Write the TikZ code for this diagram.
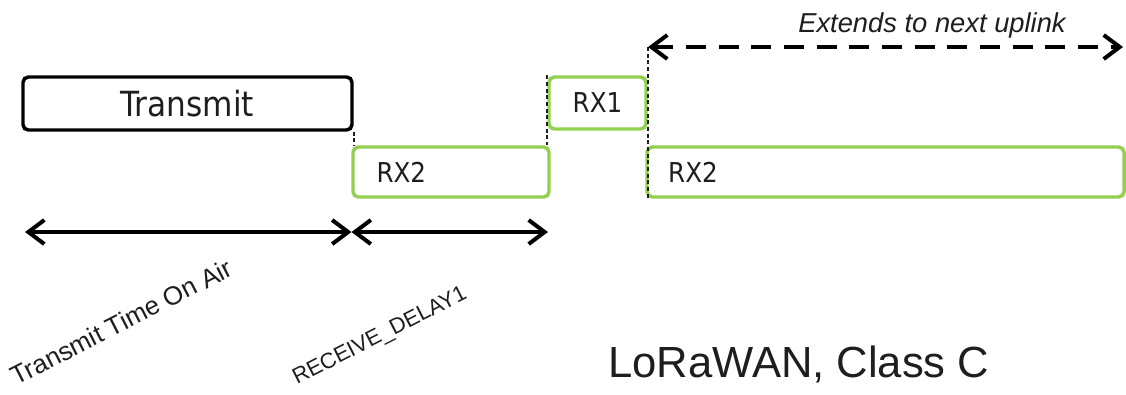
\documentclass[tikz,border=0pt]{standalone}
\usepackage{fontspec}
\setmainfont{Liberation Sans}
\newfontfamily\boxfont{DejaVu Sans Condensed}
\usetikzlibrary{arrows.meta}
\definecolor{rxgreen}{RGB}{146,208,80}
\definecolor{ink}{RGB}{30,30,30}
\tikzset{
  slot/.style={draw, rounded corners=4pt, line width=2.6pt, inner sep=0pt, text=ink},
  span/.style={line width=3pt, {Straight Barb[length=12pt,width=18pt]}-{Straight Barb[length=12pt,width=18pt]}},
  guide/.style={densely dashed, line width=1.2pt, ink},
  tag/.style={inner sep=0pt, text=ink}
}
\begin{document}
\begin{tikzpicture}[x=0.75pt, y=-0.75pt]
\useasboundingbox (0,0) rectangle (1126,394);
% receive windows
\node[slot, draw=black, minimum width=246.75pt, minimum height=39.75pt] (tx) at (187.5,103.5) {\boxfont\fontsize{26}{28}\selectfont Transmit};
\node[slot, draw=rxgreen, minimum width=147pt, minimum height=37.5pt] (rxa) at (451,172) {};
\node[slot, draw=rxgreen, minimum width=72.75pt, minimum height=39pt] (rxb) at (597.5,103) {\boxfont\fontsize{20.5}{22}\selectfont RX1};
\node[slot, draw=rxgreen, minimum width=357.75pt, minimum height=37.5pt] (rxc) at (885.5,172) {};
\node[tag, anchor=west, font=\boxfont\fontsize{20.5}{22}\selectfont] (rxalbl) at ([xshift=18.75pt]rxa.west) {RX2};
\node[tag, anchor=west, font=\boxfont\fontsize{20.5}{22}\selectfont] (rxclbl) at ([xshift=17pt]rxc.west) {RX2};
% guides
\draw[guide] (tx.south east) -- (tx.south east |- rxa.north);
\draw[guide] (rxb.north west) -- (rxb.north west |- rxa.north);
\coordinate (up0) at (648,47);
\coordinate (up1) at (1123,47);
\draw[guide] (up0) -- (up0 |- rxc.south);
\draw[span, dash pattern=on 15pt off 9.5pt] (up0) -- (up1);
\node[tag, anchor=base west, font=\itshape\fontsize{20.5}{22}\selectfont] (ext) at (798,32) {Extends to next uplink};
% timings
\coordinate (t0) at (25,232);
\coordinate (t1) at (351.5,232);
\coordinate (t2) at (548,232);
\draw[span] (t0) -- (t1);
\draw[span] (t1) -- (t2);
\node[tag, anchor=base west, rotate=27, font=\fontsize{19.5}{21}\selectfont] (toa) at (16,386) {Transmit Time On Air};
\node[tag, anchor=base west, rotate=27, font=\fontsize{16.5}{18}\selectfont] (rdly) at (297,385) {RECEIVE\_DELAY1};
\node[tag, anchor=base west, font=\fontsize{32.7}{36}\selectfont] (cls) at (608,377) {LoRaWAN, Class C};
\end{tikzpicture}
\end{document}
